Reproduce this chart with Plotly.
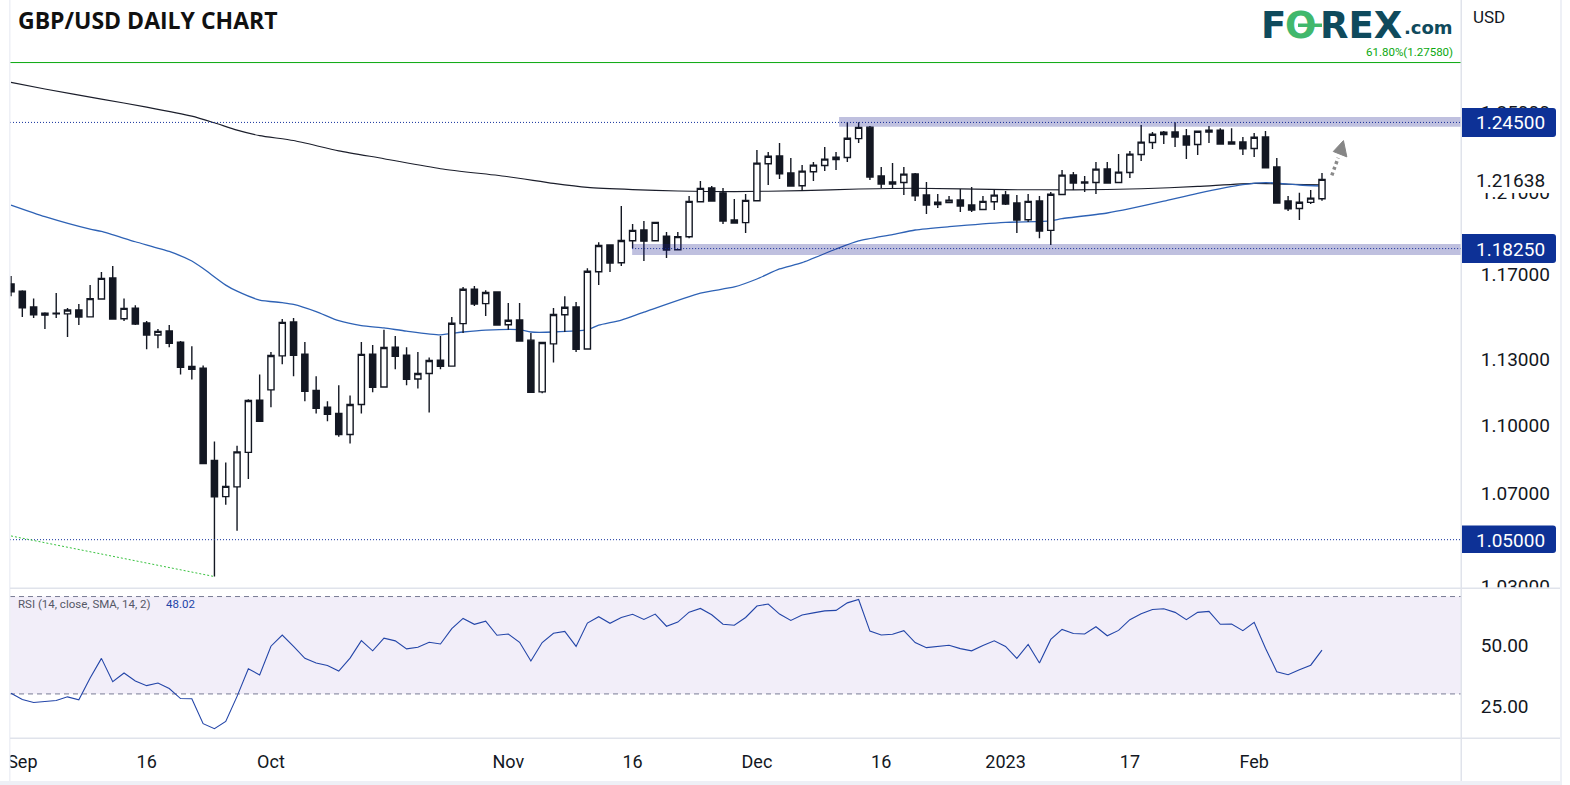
import math
import plotly.graph_objects as go

opens = [1.1655,1.1621,1.1546,1.1517,1.1517,1.1514,1.1532,1.1500,1.1584,1.1684,
         1.1491,1.1541,1.1471,1.1415,1.1434,1.1382,1.1270,1.1261,1.0845,1.0686,
         1.0729,1.0881,1.1115,1.1162,1.1318,1.1476,1.1326,1.1160,1.1083,1.1055,
         1.0961,1.1096,1.1326,1.1175,1.1358,1.1321,1.1212,1.1237,1.1298,1.1271,
         1.1468,1.1631,1.1562,1.1617,1.1463,1.1485,1.1391,1.1153,1.1374,1.1510,
         1.1546,1.1350,1.1714,1.1842,1.1757,1.1863,1.1915,1.1863,1.1885,1.1819,
         1.1882,1.2053,1.2121,1.2097,1.1964,1.1951,1.2058,1.2242,1.2281,1.2196,
         1.2132,1.2202,1.2233,1.2263,1.2273,1.2368,1.2426,1.2181,1.2151,1.2148,
         1.2191,1.2087,1.2039,1.2049,1.2062,1.2037,1.2015,1.2053,1.2087,1.2047,
         1.1965,1.2057,1.1913,1.2089,1.2186,1.2151,1.2148,1.2216,1.2148,1.2198,
         1.2288,1.2348,1.2389,1.2401,1.2381,1.2338,1.2411,1.2411,1.2351,1.2351,
         1.2318,1.2376,1.2226,1.2057,1.2020,1.2050,1.2068]
highs = [1.1693,1.1626,1.1587,1.1522,1.1613,1.1541,1.1560,1.1650,1.1712,1.1741,
         1.1587,1.1555,1.1480,1.1443,1.1462,1.1387,1.1363,1.1274,1.0929,1.0836,
         1.0910,1.1119,1.1233,1.1336,1.1490,1.1494,1.1382,1.1224,1.1110,1.1183,
         1.1137,1.1382,1.1368,1.1439,1.1410,1.1358,1.1336,1.1311,1.1410,1.1499,
         1.1641,1.1646,1.1626,1.1617,1.1565,1.1565,1.1424,1.1382,1.1541,1.1597,
         1.1570,1.1731,1.1856,1.1842,1.2032,1.1944,1.1959,1.1952,1.1905,1.1905,
         1.2082,1.2156,1.2131,1.2121,1.2067,1.2092,1.2311,1.2301,1.2346,1.2271,
         1.2236,1.2251,1.2326,1.2301,1.2451,1.2451,1.2432,1.2226,1.2246,1.2226,
         1.2196,1.2151,1.2092,1.2082,1.2116,1.2126,1.2082,1.2111,1.2106,1.2087,
         1.2092,1.2082,1.2101,1.2211,1.2201,1.2181,1.2251,1.2251,1.2291,1.2306,
         1.2437,1.2401,1.2406,1.2451,1.2416,1.2406,1.2432,1.2421,1.2421,1.2376,
         1.2396,1.2406,1.2271,1.2082,1.2097,1.2111,1.2196]
lows = [1.1597,1.1499,1.1494,1.1443,1.1494,1.1406,1.1462,1.1500,1.1584,1.1490,
        1.1480,1.1462,1.1349,1.1354,1.1358,1.1233,1.1210,1.0832,1.0343,1.0651,
        1.0538,1.0763,1.1020,1.1083,1.1279,1.1224,1.1110,1.1055,1.1020,1.0951,
        1.0920,1.1055,1.1151,1.1174,1.1256,1.1183,1.1169,1.1059,1.1256,1.1270,
        1.1424,1.1551,1.1504,1.1462,1.1439,1.1387,1.1151,1.1147,1.1288,1.1429,
        1.1336,1.1349,1.1650,1.1712,1.1741,1.1827,1.1765,1.1863,1.1779,1.1818,
        1.1875,1.2052,1.2057,1.1944,1.1949,1.1900,1.2057,1.2136,1.2166,1.2131,
        1.2106,1.2156,1.2206,1.2211,1.2251,1.2346,1.2161,1.2121,1.2121,1.2087,
        1.2057,1.1993,1.2023,1.2047,1.2003,1.2003,1.2013,1.2013,1.2037,1.1900,
        1.1954,1.1875,1.1842,1.2087,1.2111,1.2101,1.2092,1.2146,1.2146,1.2171,
        1.2256,1.2316,1.2341,1.2326,1.2266,1.2286,1.2346,1.2341,1.2341,1.2286,
        1.2276,1.2221,1.2047,1.2008,1.1964,1.2042,1.2058]
closes = [1.1618,1.1543,1.1510,1.1508,1.1514,1.1532,1.1499,1.1586,1.1682,1.1490,
          1.1540,1.1466,1.1415,1.1432,1.1377,1.1265,1.1256,1.0832,1.0685,1.0731,
          1.0883,1.1114,1.1020,1.1320,1.1474,1.1321,1.1156,1.1079,1.1051,1.0960,
          1.1096,1.1325,1.1174,1.1357,1.1316,1.1210,1.1237,1.1297,1.1270,1.1470,
          1.1630,1.1560,1.1615,1.1462,1.1484,1.1387,1.1151,1.1380,1.1511,1.1545,
          1.1349,1.1716,1.1840,1.1755,1.1864,1.1913,1.1861,1.1952,1.1818,1.1883,
          1.2055,1.2119,1.2057,1.1959,1.1949,1.2060,1.2245,1.2279,1.2191,1.2131,
          1.2205,1.2235,1.2265,1.2275,1.2370,1.2425,1.2176,1.2141,1.2141,1.2190,
          1.2082,1.2037,1.2051,1.2061,1.2032,1.2013,1.2055,1.2086,1.2042,1.1964,
          1.2055,1.1910,1.2090,1.2185,1.2146,1.2146,1.2215,1.2146,1.2200,1.2290,
          1.2350,1.2390,1.2400,1.2376,1.2336,1.2405,1.2401,1.2341,1.2341,1.2316,
          1.2375,1.2221,1.2047,1.2018,1.2051,1.2071,1.21638]

rsi_values = [30.3,27.7,26.5,26.9,27.3,28.8,27.6,36.5,44.6,35.0,38.6,35.3,33.4,34.5,32.2,28.1,28.0,17.8,15.7,18.7,
              29.0,40.3,37.8,49.6,54.2,49.5,44.6,42.7,41.7,39.4,44.7,51.9,47.7,52.9,51.8,48.5,49.2,51.2,50.5,56.8,
              61.0,58.6,59.9,54.1,54.6,51.2,43.5,51.1,54.9,55.7,49.5,59.1,61.7,59.0,61.4,62.7,60.6,62.8,57.8,59.5,
              63.6,65.1,62.5,58.6,58.2,61.4,66.1,66.9,62.8,60.2,62.4,63.3,64.1,64.3,67.4,68.8,55.8,54.2,54.5,56.0,
              51.1,49.0,49.5,50.0,48.6,47.7,49.9,51.8,49.5,44.6,50.3,42.7,52.4,56.5,54.8,54.6,57.6,53.9,56.1,60.5,
              62.9,64.7,65.0,63.5,60.5,63.5,63.9,58.6,58.7,56.0,59.4,48.8,39.1,37.9,39.9,41.8,48.02]

sma200_bars = [0,3,8,12,16,18,20,22,25,29,33,38,44,48,51,55,59,64,70,75,80,88,94,100,105,110,113,116]
sma200_vals = [1.2655,1.2621,1.2569,1.2528,1.2482,1.2448,1.2411,1.2383,1.2358,1.2306,1.2267,1.2217,1.2177,1.2144,
               1.2124,1.2113,1.2106,1.2103,1.2108,1.2116,1.2120,1.2113,1.2112,1.2117,1.2129,1.2144,1.2140,1.2137]
sma50_bars = [0,3,7,8,11,14,16,17,19,20,22,24,25,27,29,31,33,35,38,40,42,45,46,48,51,52,54,56,61,64,66,68,70,73,75,
              78,80,83,88,92,93,97,99,102,105,109,111,114,116]
sma50_vals = [1.2037,1.1980,1.1919,1.1908,1.1858,1.1811,1.1765,1.1729,1.1650,1.1621,1.1579,1.1567,1.1559,1.1525,
              1.1482,1.1459,1.1448,1.1433,1.1416,1.1429,1.1438,1.1440,1.1429,1.1429,1.1440,1.1461,1.1485,1.1522,
              1.1612,1.1641,1.1679,1.1727,1.1757,1.1823,1.1862,1.1893,1.1915,1.1931,1.1952,1.1959,1.1970,1.1998,
              1.2019,1.2056,1.2095,1.2138,1.2148,1.2136,1.2131]

x_tick_bars = [1,12,23,44,55,66,77,88,99,110]
x_tick_labels = ["Sep","16","Oct","Nov","16","Dec","16","2023","17","Feb"]
price_ticks = [1.03,1.07,1.10,1.13,1.17,1.21,1.25]
rsi_ticks = [25,50]

resistance = 1.245
support = 1.1825
floor_level = 1.05
fib_level = 1.2758
last_price = 1.21638
rsi_last = 48.02

trend_bars = [0,18]
trend_vals = [1.0516,1.0343]
arrow_line_bars = [116.87,117.43]
arrow_line_vals = [1.2184,1.2271]
arrow_head_bars = [117.9,117.0,118.2,117.9]
arrow_head_vals = [1.2358,1.2303,1.2276,1.2358]

W, H = 1570, 785
L, R, B = 10, 1461, 738
PANE = 587.5

def px(x): return (x - L) / (R - L)
def py(y): return 1 - y / B

ink = "#131722"
navy = "#0d3196"
x_range = [-0.09, 128.3]
y_range = [math.log10(1.0297), math.log10(1.3088)]
bars = list(range(len(closes)))

fig = go.Figure()
fig.add_trace(go.Scatter(x=sma200_bars, y=sma200_vals, mode="lines", line=dict(color="#1b1e2b", width=1.1, shape="spline", smoothing=0.6), yaxis="y"))
fig.add_trace(go.Scatter(x=sma50_bars, y=sma50_vals, mode="lines", line=dict(color="#2e62b5", width=1.3, shape="spline", smoothing=0.6), yaxis="y"))
fig.add_trace(go.Candlestick(x=bars, open=opens, high=highs, low=lows, close=closes, yaxis="y3", whiskerwidth=0,
    increasing=dict(fillcolor="#ffffff", line=dict(color=ink, width=1.4)),
    decreasing=dict(fillcolor=ink, line=dict(color=ink, width=1.4))))
fig.add_trace(go.Scatter(x=x_range, y=[fib_level]*2, mode="lines", line=dict(color="#0aa80f", width=1), yaxis="y3"))
fig.add_trace(go.Scatter(x=x_range, y=[resistance]*2, mode="lines", line=dict(color="#12309c", width=1, dash="1px,2px"), yaxis="y3"))
fig.add_trace(go.Scatter(x=[54.96, x_range[1]], y=[support]*2, mode="lines", line=dict(color="#12309c", width=1, dash="1px,2px"), yaxis="y3"))
fig.add_trace(go.Scatter(x=x_range, y=[floor_level]*2, mode="lines", line=dict(color="#12309c", width=1, dash="1px,2px"), yaxis="y3"))
fig.add_trace(go.Scatter(x=trend_bars, y=trend_vals, mode="lines", line=dict(color="#38c23f", width=1, dash="2px,2px"), yaxis="y3"))
fig.add_trace(go.Scatter(x=arrow_line_bars, y=arrow_line_vals, mode="lines", line=dict(color="#8a8a8a", width=3.5, dash="3px,3px"), yaxis="y3"))
fig.add_trace(go.Scatter(x=arrow_head_bars, y=arrow_head_vals, mode="lines", fill="toself", fillcolor="#868686", line=dict(color="#868686", width=1), yaxis="y3"))
fig.add_trace(go.Scatter(x=x_range, y=[70]*2, mode="lines", line=dict(color="#787b94", width=1, dash="5px,4px"), yaxis="y2"))
fig.add_trace(go.Scatter(x=x_range, y=[30]*2, mode="lines", line=dict(color="#787b94", width=1, dash="5px,4px"), yaxis="y2",
                         fill="tonexty", fillcolor="rgba(126,87,194,0.10)"))
fig.add_trace(go.Scatter(x=bars, y=rsi_values, mode="lines", line=dict(color="#2345a8", width=1.1), yaxis="y2"))

def rect(x0, y0, x1, y1, color):
    return dict(type="rect", xref="paper", yref="paper", x0=px(x0), x1=px(x1), y0=py(y0), y1=py(y1),
                fillcolor=color, line=dict(width=0), layer="above")

def badge(y0, y1):
    x0, x1, r = px(1462), px(1556), 3 / (R - L)
    a, b, ry = py(y0), py(y1), 3 / B
    path = (f"M {x0},{a} L {x1-r},{a} Q {x1},{a} {x1},{a-ry} L {x1},{b+ry} Q {x1},{b} {x1-r},{b} L {x0},{b} Z")
    return dict(type="path", xref="paper", yref="paper", path=path, fillcolor=navy, line=dict(width=0), layer="above")

band = "rgba(24,30,140,0.28)"
rule = "#e0e3eb"
strip = "#eef0f6"
shapes = [
    dict(type="rect", xref="x", yref="y", x0=73.27, x1=x_range[1], y0=1.2428, y1=1.2477, fillcolor=band, line=dict(width=0), layer="above"),
    dict(type="rect", xref="x", yref="y", x0=54.96, x1=x_range[1], y0=1.1794, y1=1.1847, fillcolor=band, line=dict(width=0), layer="above"),
    rect(1462, PANE, 1560, 597, "#ffffff"),
    rect(0, 0, 9, H, "#ffffff"),
    rect(9, 0, 10.5, 781, strip),
    rect(10, 587.5, 1560, 589, rule),
    rect(10, 737.5, 1560, 739, rule),
    rect(1460.5, 0, 1462, 781, rule),
    rect(1560, 0, 1562, H, strip),
    rect(0, 781, 1562, H, strip),
    rect(1462, 165, 1556, 193, "#ffffff"),
    rect(1298, 23.5, 1322, 27, "#41b86c"),
    badge(108, 137),
    badge(234, 263),
    badge(525.5, 553),
]

def note(text, x, y, size, color, anchor="left", family="Roboto"):
    return dict(text=text, xref="paper", yref="paper", x=px(x), y=py(y), xanchor=anchor, yanchor="middle",
                showarrow=False, font=dict(family=family, size=size, color=color), borderpad=0, borderwidth=0)

teal = "#0f4a5c"
annotations = [
    note("<b>GBP/USD DAILY CHART</b>", 18, 20, 23, "#111111", family="Open Sans"),
    note("<b>F</b>", 1261, 25, 37, teal, family="DejaVu Sans"),
    note("<b>O</b>", 1285, 25, 37, "#41b86c", family="DejaVu Sans"),
    note("<b>REX</b>", 1320, 25, 37, teal, family="DejaVu Sans"),
    note("<b>.com</b>", 1453, 28, 18, teal, anchor="right", family="DejaVu Sans"),
    note("61.80%(1.27580)", 1453, 52, 11.5, "#0aa80f", anchor="right"),
    note("USD", 1473, 17, 17, ink),
    note("1.24500", 1476, 123, 19, "#ffffff"),
    note("1.18250", 1476, 249, 19, "#ffffff"),
    note("1.05000", 1476, 540, 19, "#ffffff"),
    note("1.21638", 1476, 180, 19, ink),
    note("RSI (14, close, SMA, 14, 2)", 18, 604, 11.5, "#555866"),
    note(f"{rsi_last:.2f}", 166, 604, 11.5, "#2345a8"),
]

tickfont = dict(family="Roboto", size=19, color=ink)
fig.update_layout(
    width=W, height=H, autosize=False, showlegend=False, hovermode=False, boxgap=0.22,
    paper_bgcolor="#ffffff", plot_bgcolor="#ffffff",
    margin=dict(l=L, r=W - R, t=0, b=H - B, autoexpand=False),
    shapes=shapes, annotations=annotations,
    xaxis=dict(range=x_range, anchor="y2", tickmode="array", tickvals=x_tick_bars, ticktext=x_tick_labels,
               showgrid=False, zeroline=False, showline=False, rangeslider=dict(visible=False),
               ticks="outside", ticklen=7, tickcolor="rgba(0,0,0,0)", tickfont=dict(family="Roboto", size=18, color=ink)),
    yaxis=dict(type="log", range=y_range, domain=[1 - PANE / B, 1], side="right", anchor="x", showgrid=False, zeroline=False,
               tickmode="array", tickvals=price_ticks, ticktext=[f"{v:.5f}" for v in price_ticks],
               ticks="outside", ticklen=15, tickcolor="rgba(0,0,0,0)", tickfont=tickfont),
    yaxis3=dict(type="log", range=y_range, overlaying="y", side="right", anchor="x", visible=False),
    yaxis2=dict(range=[11.9, 73.3], domain=[0, 1 - 588.5 / B], side="right", anchor="x", showgrid=False, zeroline=False,
                tickmode="array", tickvals=rsi_ticks, ticktext=[f"{v:.2f}" for v in rsi_ticks],
                ticks="outside", ticklen=15, tickcolor="rgba(0,0,0,0)", tickfont=tickfont),
)
fig.write_html("out.html", config=dict(displayModeBar=False),
               post_script="document.body.style.margin='0';document.body.style.overflow='hidden';")
